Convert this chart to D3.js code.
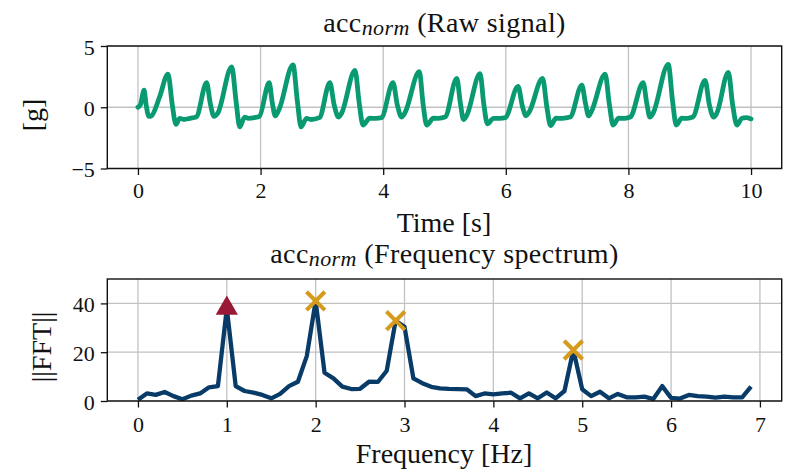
<!DOCTYPE html>
<html>
<head>
<meta charset="utf-8">
<script src="https://cdn.jsdelivr.net/npm/d3@7"></script>
<style>
  html, body { margin: 0; padding: 0; background: #ffffff; }
  svg { display: block; font-family: "Liberation Serif", "Times New Roman", serif; }
</style>
</head>
<body>
<svg id="chart" width="787" height="471"></svg>
<script>
// ---- Raw acceleration norm, time [s] and value [g] ----
const signalTime = [
  0.00, 0.04, 0.10, 0.13, 0.18, 0.22, 0.35, 0.49, 0.56, 0.62, 0.68, 0.75, 0.85, 0.95,
  1.12, 1.18, 1.24, 1.30, 1.53, 1.60, 1.66, 1.74, 1.80, 1.90, 1.98,
  2.14, 2.19, 2.24, 2.30, 2.53, 2.60, 2.66, 2.75, 2.82, 2.96,
  3.13, 3.20, 3.27, 3.32, 3.54, 3.61, 3.67, 3.78, 3.88, 3.97,
  4.16, 4.23, 4.30, 4.35, 4.59, 4.65, 4.71, 4.82, 4.90, 5.01,
  5.20, 5.26, 5.31, 5.36, 5.58, 5.64, 5.70, 5.80, 5.90, 5.99,
  6.20, 6.27, 6.33, 6.38, 6.60, 6.67, 6.73, 6.82, 6.92, 7.05,
  7.24, 7.30, 7.35, 7.40, 7.62, 7.69, 7.75, 7.84, 7.94, 8.03,
  8.24, 8.30, 8.35, 8.40, 8.65, 8.72, 8.78, 8.87, 8.96, 9.05,
  9.25, 9.32, 9.39, 9.44, 9.63, 9.70, 9.77, 9.85, 9.92, 10.00
];
const signalAcc = [
  0.00, 0.20, 1.40, 0.30, -0.75, -0.70, 0.80, 2.70, 0.20, -1.40, -0.90, -1.00, -0.90, -0.80,
  2.00, 0.30, -0.75, -0.50, 3.30, 0.50, -1.60, -0.80, -0.90, -0.85, -0.75,
  2.00, 0.40, -0.70, -0.20, 3.45, 0.50, -1.60, -0.90, -1.00, -0.85,
  2.00, 0.20, -0.80, -0.50, 3.00, 0.30, -1.45, -0.90, -0.90, -0.85,
  2.00, 0.20, -0.80, -0.50, 2.90, 0.30, -1.45, -0.90, -0.90, -0.80,
  2.35, 0.30, -1.00, -0.70, 2.75, 0.30, -1.35, -0.90, -0.90, -0.85,
  1.70, 0.10, -0.70, -0.40, 2.35, 0.00, -1.50, -0.90, -0.90, -0.80,
  1.80, 0.30, -0.70, -0.30, 2.70, 0.20, -1.45, -0.90, -0.90, -0.80,
  2.00, 0.30, -0.80, -0.50, 3.50, 0.50, -1.45, -0.90, -0.90, -0.80,
  2.20, 0.20, -0.80, -0.50, 2.85, 0.20, -1.45, -0.90, -0.85, -0.95
];

// ---- Magnitude spectrum ----
const freqBins = [
  0.0, 0.1, 0.2, 0.3, 0.4, 0.5, 0.6, 0.7, 0.8, 0.9,
  1.0, 1.1, 1.2, 1.3, 1.4, 1.5, 1.6, 1.7, 1.8, 1.9,
  2.0, 2.1, 2.2, 2.3, 2.4, 2.5, 2.6, 2.7, 2.8, 2.9,
  3.0, 3.1, 3.2, 3.3, 3.4, 3.5, 3.6, 3.7, 3.8, 3.9,
  4.0, 4.1, 4.2, 4.3, 4.4, 4.5, 4.6, 4.7, 4.8, 4.9,
  5.0, 5.1, 5.2, 5.3, 5.4, 5.5, 5.6, 5.7, 5.8, 5.9,
  6.0, 6.1, 6.2, 6.3, 6.4, 6.5, 6.6, 6.7, 6.8, 6.9
];
const fftMagnitude = [
  0.5, 3.1, 2.5, 3.7, 2.0, 0.7, 2.2, 3.1, 5.6, 6.1,
  38.0, 6.1, 4.1, 3.4, 2.5, 1.1, 2.9, 6.1, 7.9, 18.4,
  41.0, 11.6, 9.3, 5.9, 4.9, 5.0, 7.9, 7.8, 12.4, 32.9,
  30.4, 9.3, 7.3, 5.8, 5.2, 5.0, 4.9, 4.8, 2.0, 3.1,
  2.7, 3.1, 3.4, 1.1, 3.1, 1.1, 3.5, 1.1, 4.1, 20.9,
  4.8, 2.0, 3.8, 1.1, 2.9, 1.5, 1.5, 1.8, 0.8, 6.1,
  1.3, 1.0, 2.5, 2.0, 1.8, 1.4, 1.8, 1.5, 1.5, 5.9
];
// Dominant frequency (triangle) and further detected peaks (crosses)
const dominantPeakFreq = [1.0];
const harmonicPeakFreq = [2.0, 2.9, 4.9];

// ---- Ticks ----
const rawTicksX = [0, 2, 4, 6, 8, 10];
const rawTicksY = [-5, 0, 5];
const fftTicksX = [0, 1, 2, 3, 4, 5, 6, 7];
const fftTicksY = [0, 20, 40];

// ---- Styling ----
const serif = "'Liberation Serif', 'Times New Roman', serif";
const colSignal = "#0a9a72";
const colSpectrum = "#083b68";
const colDominant = "#981a36";
const colHarmonic = "#d69a1c";
const colGrid = "#c2c2c2";
const colInk = "#111111";

const svg = d3.select("#chart");
const left = 107.3, right = 781.7;
const rawBox = { top: 46, bottom: 168.5 };
const fftBox = { top: 279, bottom: 401 };

const xRaw = d3.scaleLinear().domain([-0.5, 10.5]).range([left, right]);
const yRaw = d3.scaleLinear().domain([-5, 5]).range([rawBox.bottom, rawBox.top]);
const xFft = d3.scaleLinear().domain([-0.345, 7.245]).range([left, right]);
const yFft = d3.scaleLinear().domain([0, 50]).range([fftBox.bottom, fftBox.top]);

const defs = svg.append("defs");
function clip(id, box) {
  defs.append("clipPath").attr("id", id).append("rect")
    .attr("x", left).attr("y", box.top)
    .attr("width", right - left).attr("height", box.bottom - box.top);
}
clip("clip-raw", rawBox);
clip("clip-fft", fftBox);

function grid(x, y, xt, yt, box) {
  const g = svg.append("g").attr("stroke", colGrid).attr("stroke-width", 1.3);
  g.selectAll("line.v").data(xt).join("line").attr("class", "v")
    .attr("x1", d => x(d)).attr("x2", d => x(d))
    .attr("y1", box.top).attr("y2", box.bottom);
  g.selectAll("line.h").data(yt).join("line").attr("class", "h")
    .attr("x1", left).attr("x2", right)
    .attr("y1", d => y(d)).attr("y2", d => y(d));
}

function axes(x, y, xt, yt, box, xPad) {
  const fmt = d3.format("");
  const gx = svg.append("g").attr("transform", `translate(0,${box.bottom})`)
    .call(d3.axisBottom(x).tickValues(xt).tickFormat(fmt).tickSize(6.5).tickPadding(xPad));
  const gy = svg.append("g").attr("transform", `translate(${left},0)`)
    .call(d3.axisLeft(y).tickValues(yt).tickFormat(fmt).tickSize(6.5).tickPadding(6));
  [gx, gy].forEach(g => {
    g.attr("font-family", serif).attr("font-size", 22);
    g.select(".domain").remove();
    g.selectAll(".tick line").attr("stroke", colInk).attr("stroke-width", 1.3);
    g.selectAll(".tick text").attr("fill", colInk);
  });
  gy.selectAll(".tick text").attr("dy", "0.38em");
  svg.append("rect")
    .attr("x", left).attr("y", box.top)
    .attr("width", right - left).attr("height", box.bottom - box.top)
    .attr("fill", "none").attr("stroke", colInk).attr("stroke-width", 1.4);
}

function title(text, baseline) {
  const t = svg.append("text")
    .attr("x", (left + right) / 2).attr("y", baseline)
    .attr("text-anchor", "middle").attr("font-family", serif)
    .style("font-size", "28px").style("letter-spacing", "0.4px").attr("fill", colInk);
  t.append("tspan").text("acc");
  t.append("tspan").text("norm").style("font-style", "italic")
    .style("font-size", "22px").attr("dy", 3);
  t.append("tspan").text(" " + text).attr("dy", -3);
}

function xLabel(text, baseline) {
  svg.append("text").attr("x", 444).attr("y", baseline)
    .attr("text-anchor", "middle").attr("font-family", serif).style("font-size", "28px")
    .attr("fill", colInk).text(text);
}
function yLabel(text, bx, cy) {
  svg.append("text")
    .attr("transform", `translate(${bx},${cy}) rotate(-90)`)
    .attr("text-anchor", "middle").attr("font-family", serif).style("font-size", "28px")
    .attr("fill", colInk).text(text);
}

// ---------- Top panel: raw signal ----------
grid(xRaw, yRaw, rawTicksX, rawTicksY, rawBox);
const rawPoints = signalTime.map((t, i) => [t, signalAcc[i]]);
svg.append("path")
  .datum(rawPoints)
  .attr("clip-path", "url(#clip-raw)")
  .attr("fill", "none")
  .attr("stroke", colSignal)
  .attr("stroke-width", 4.8)
  .attr("stroke-linejoin", "round")
  .attr("stroke-linecap", "round")
  .attr("d", d3.line().curve(d3.curveMonotoneX).x(d => xRaw(d[0])).y(d => yRaw(d[1])));
axes(xRaw, yRaw, rawTicksX, rawTicksY, rawBox, 7);
title("(Raw signal)", 32);
xLabel("Time [s]", 232);
yLabel("[g]", 42, 115);

// ---------- Bottom panel: spectrum ----------
grid(xFft, yFft, fftTicksX, fftTicksY, fftBox);
const fftPoints = freqBins.map((f, i) => [f, fftMagnitude[i]]);
svg.append("path")
  .datum(fftPoints)
  .attr("clip-path", "url(#clip-fft)")
  .attr("fill", "none")
  .attr("stroke", colSpectrum)
  .attr("stroke-width", 4.3)
  .attr("stroke-linejoin", "round")
  .attr("stroke-linecap", "butt")
  .attr("d", d3.line().x(d => xFft(d[0])).y(d => yFft(d[1])));
axes(xFft, yFft, fftTicksX, fftTicksY, fftBox, 8.5);

const magAt = f => fftMagnitude[freqBins.findIndex(b => Math.abs(b - f) < 1e-9)];

// Cross marker drawn as two diagonal strokes
const crossSymbol = {
  draw(ctx, size) {
    const r = Math.sqrt(size) / 2;
    ctx.moveTo(-r, -r); ctx.lineTo(r, r);
    ctx.moveTo(-r, r); ctx.lineTo(r, -r);
  }
};

svg.append("g").selectAll("path")
  .data(harmonicPeakFreq)
  .join("path")
  .attr("transform", f => `translate(${xFft(f)},${yFft(magAt(f))})`)
  .attr("d", d3.symbol().type(crossSymbol).size(340))
  .attr("fill", "none")
  .attr("stroke", colHarmonic)
  .attr("stroke-width", 4);

svg.append("g").selectAll("path")
  .data(dominantPeakFreq)
  .join("path")
  .attr("transform", f => `translate(${xFft(f)},${yFft(magAt(f))})`)
  .attr("d", d3.symbol().type(d3.symbolTriangle).size(215))
  .attr("fill", colDominant);

title("(Frequency spectrum)", 263);
xLabel("Frequency [Hz]", 463);
yLabel("||FFT||", 51, 347);
</script>
</body>
</html>
